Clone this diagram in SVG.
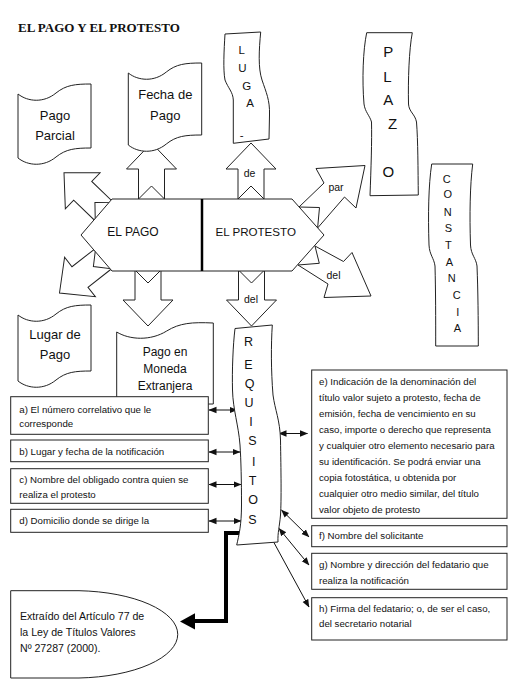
<svg xmlns="http://www.w3.org/2000/svg" width="514" height="684" viewBox="0 0 514 684">
<style>
.s{fill:#fff;stroke:#222;stroke-width:1}
.t{font-family:"Liberation Sans",Arial,sans-serif;fill:#111}
.d{font-size:13px;text-anchor:middle}
.b{font-size:9.7px}
.l{font-size:10.5px;text-anchor:middle}
.v{text-anchor:middle}
.c{fill:none;stroke:#111;stroke-width:1;marker-start:url(#ah);marker-end:url(#ah)}
</style>
<defs>
<marker id="ah" viewBox="0 0 8 8" refX="7.5" refY="4" markerWidth="8" markerHeight="8" markerUnits="userSpaceOnUse" orient="auto-start-reverse">
<path d="M0,0.8 L8,4 L0,7.2 Z" fill="#111"/>
</marker>
<polygon id="arr" points="0,0 25,26 13,26 13,56 0,43 -13,56 -13,26 -25,26"/>
</defs>
<rect width="514" height="684" fill="#fff"/>
<text x="18" y="32" font-family="Liberation Serif,Times New Roman,serif" font-weight="bold" font-size="13" fill="#111">EL PAGO Y EL PROTESTO</text>

<g id="connectors">
<use href="#arr" class="s" transform="translate(64,172.7) rotate(-46)"/>
<use href="#arr" class="s" transform="translate(59.5,293) rotate(-128)"/>
<polygon class="s" points="299,207 324,183 316,168.5 365,165.5 356,208 344.5,197 317.6,228 319.5,207.5"/>
<polygon class="s" points="315,246 343.5,261.5 352,252.5 371,296 324,297.5 328,284 298,265 319.3,263.3"/>
<use href="#arr" class="s" transform="translate(151.5,143)"/>
<use href="#arr" class="s" transform="translate(251,143)"/>
<use href="#arr" class="s" transform="translate(148,326) rotate(180)"/>
<use href="#arr" class="s" transform="translate(251.5,326) rotate(180)"/>
<text class="t l" x="249.5" y="176.5">de</text>
<text class="t l" x="251" y="302.5">del</text>
<text class="t l" x="336" y="190.5">par</text>
<text class="t l" x="333.5" y="278.5">del</text>
<line class="c" x1="209" y1="410" x2="237" y2="410"/>
<line class="c" x1="209" y1="452" x2="240" y2="452"/>
<line class="c" x1="209" y1="484.5" x2="241" y2="484.5"/>
<line class="c" x1="209" y1="521" x2="241" y2="521"/>
<line class="c" x1="279" y1="433.5" x2="307.5" y2="433.5"/>
<line class="c" x1="281.5" y1="510" x2="309" y2="537"/>
<line class="c" x1="279" y1="528.5" x2="309" y2="565"/>
<line class="c" x1="269" y1="533.5" x2="309" y2="607"/>
<polyline points="195,621 226,621 226,533 259,533" fill="none" stroke="#000" stroke-width="4"/>
<polygon points="258,526 273,532.5 258,540" fill="#000"/>
<polygon points="195,613.3 180,621.5 195,629.5" fill="#000"/>
</g>

<g id="hexagon">
<polygon class="s" points="112,199 292,199 324,235 292,271 112,271 81,235"/>
<line x1="202" y1="199" x2="202" y2="271" stroke="#000" stroke-width="2.5"/>
<text class="t v" x="133" y="236" font-size="12">EL PAGO</text>
<text class="t v" x="255.7" y="236" font-size="11.6">EL PROTESTO</text>
</g>

<g id="pago-parcial">
<path class="s" d="M18,94 C28,102 44,103 56,93 C66,85 75,84 91,84 L91,148 C75,148 66,149 56,157 C44,167 28,166 18,158 Z"/>
<text class="t d" x="55" y="119.5">Pago</text>
<text class="t d" x="55" y="140">Parcial</text>
</g>

<g id="fecha-de-pago">
<path class="s" d="M128.3,73 C138.3,81 154.3,82 166.3,72 C176.3,64 185.3,63 201.7,63 L201.7,135 C185.3,135 176.3,136 166.3,144 C154.3,154 138.3,153 128.3,145 Z"/>
<text class="t d" x="165.3" y="99.3">Fecha de</text>
<text class="t d" x="165.3" y="120">Pago</text>
</g>

<g id="lugar">
<path class="s" d="M225,34 L260.7,32 C259,50 258,68 262,80 C266,92 270,100 269.5,115 L269,139 L233.3,143.3 L233.3,100 C233,92 228,88 225,80 C223,70 224,50 225,34 Z"/>
<g class="t v" font-size="11.5">
<text x="241.7" y="53.5">L</text>
<text x="242.3" y="71.8">U</text>
<text x="246.7" y="89.8">G</text>
<text x="250" y="107.4">A</text>
<text x="241.7" y="138.5">-</text>
</g>
</g>

<g id="plazo">
<path class="s" d="M366.7,32.7 L412.3,32.7 C409,50 408,80 408.5,104 C409,112 415,114 416.5,122 C418,140 418,170 418.3,195 L370,195.7 C371,170 372,140 371.5,122 C370,116 365,112 364,104 C362,80 363,50 366.7,32.7 Z"/>
<g class="t v" font-size="15">
<text x="388.3" y="57">P</text>
<text x="387.3" y="82">L</text>
<text x="388.3" y="105.3">A</text>
<text x="392.7" y="129.3">Z</text>
<text x="388.3" y="177">O</text>
</g>
</g>

<g id="constancia">
<path class="s" d="M431.7,164 L472.7,164 C470,185 469.5,215 470.5,245 C471,255 476,258 477,266 C478,290 478.3,320 478.3,346 L435.7,346 C435.7,320 435.7,290 435,266 C434,258 429.5,255 429,245 C428,215 428.5,185 431.7,164 Z"/>
<g class="t v" font-size="11">
<text x="446.7" y="183.3">C</text>
<text x="447.7" y="198.3">O</text>
<text x="447.7" y="215.7">N</text>
<text x="448.3" y="232.3">S</text>
<text x="448.3" y="249">T</text>
<text x="449.3" y="265.7">A</text>
<text x="451.7" y="282.3">N</text>
<text x="456.7" y="299">C</text>
<text x="457.7" y="315.7">I</text>
<text x="457.3" y="332.3">A</text>
</g>
</g>

<g id="lugar-de-pago">
<path class="s" d="M18,315 C28,323 44,324 56,314 C66,306 75,305 91,305 L91,371 C75,371 66,372 56,380 C44,390 28,389 18,381 Z"/>
<text class="t d" x="55" y="339">Lugar de</text>
<text class="t d" x="55" y="359">Pago</text>
</g>

<g id="pago-moneda-extranjera">
<path class="s" d="M116.7,332 C129.7,340 150.7,341 166.7,331 C179.7,323 191.7,322 213.3,323 L213.3,404 C191.7,404 179.7,405 166.7,413 C150.7,423 129.7,422 116.7,414 Z"/>
<text class="t v" x="165" y="356" font-size="12">Pago en</text>
<text class="t v" x="165" y="373" font-size="12">Moneda</text>
<text class="t v" x="165" y="390" font-size="12">Extranjera</text>
</g>

<g id="requisitos">
<path class="s" d="M235,328.5 L272.3,325 C271,345 271,370 273,395 C275,410 280,420 280.5,440 C281,470 281.5,500 280.5,515 C279.5,527 277.5,533 278,542 L236.7,545 C239,535 241.5,525 241.5,505 C241.5,480 241,460 240,445 C238.5,425 233,410 232.5,390 C232,370 233,345 235,328.5 Z"/>
<g class="t v" font-size="12.5">
<text x="248.5" y="346.3">R</text>
<text x="248.5" y="368.5">E</text>
<text x="249.5" y="387.5">Q</text>
<text x="249" y="407.3">U</text>
<text x="251" y="426.3">I</text>
<text x="252.3" y="445">S</text>
<text x="253.7" y="465.5">I</text>
<text x="252.5" y="484.5">T</text>
<text x="253.2" y="504">O</text>
<text x="252.5" y="524">S</text>
</g>
</g>

<g id="req-a">
<rect class="s" x="10.7" y="396.7" width="197.6" height="37.6"/>
<text class="t b" x="19.3" y="412.8">a) El número correlativo que le</text>
<text class="t b" x="19.3" y="426.8">corresponde</text>
</g>
<g id="req-b">
<rect class="s" x="10.7" y="440" width="197.6" height="21.7"/>
<text class="t b" x="19.3" y="454.5">b) Lugar y fecha de la notificación</text>
</g>
<g id="req-c">
<rect class="s" x="10.7" y="468.7" width="197.6" height="34.6"/>
<text class="t b" x="19.3" y="482.8">c) Nombre del obligado contra quien se</text>
<text class="t b" x="19.3" y="497.8">realiza el protesto</text>
</g>
<g id="req-d">
<rect class="s" x="10.7" y="509.3" width="197.6" height="23"/>
<text class="t b" x="19.3" y="523.5">d) Domicilio donde se dirige la</text>
</g>

<g id="req-e">
<rect class="s" x="311.7" y="370" width="195.3" height="148.3"/>
<g class="t b">
<text x="319" y="384.5">e) Indicación de la denominación del</text>
<text x="319" y="400.6">título valor sujeto a protesto, fecha de</text>
<text x="319" y="416.7">emisión, fecha de vencimiento en su</text>
<text x="319" y="432.8">caso, importe o derecho que representa</text>
<text x="319" y="448.9">y cualquier otro elemento necesario para</text>
<text x="319" y="465">su identificación. Se podrá enviar una</text>
<text x="319" y="481.1">copia fotostática, u obtenida por</text>
<text x="319" y="497.2">cualquier otro medio similar, del título</text>
<text x="319" y="513.3">valor objeto de protesto</text>
</g>
</g>
<g id="req-f">
<rect class="s" x="311.7" y="525.7" width="195.3" height="21"/>
<text class="t b" x="319" y="539.2">f) Nombre del solicitante</text>
</g>
<g id="req-g">
<rect class="s" x="311.7" y="553.3" width="195.3" height="36"/>
<text class="t b" x="319" y="567.5">g) Nombre y dirección del fedatario que</text>
<text class="t b" x="319" y="583.5">realiza la notificación</text>
</g>
<g id="req-h">
<rect class="s" x="311.7" y="597.7" width="195.3" height="42.3"/>
<text class="t b" x="319" y="612">h) Firma del fedatario; o, de ser el caso,</text>
<text class="t b" x="319" y="627">del secretario notarial</text>
</g>

<g id="fuente">
<path class="s" d="M10.7,590.7 L79,590.7 A103.7,43.7 0 0 1 79,678 L10.7,678 Z"/>
<text class="t" font-size="10.6" x="20" y="620">Extraído del Artículo 77 de</text>
<text class="t" font-size="10.6" x="20" y="635.5">la Ley de Títulos Valores</text>
<text class="t" font-size="10.6" x="20" y="652">Nº 27287 (2000).</text>
</g>
</svg>
